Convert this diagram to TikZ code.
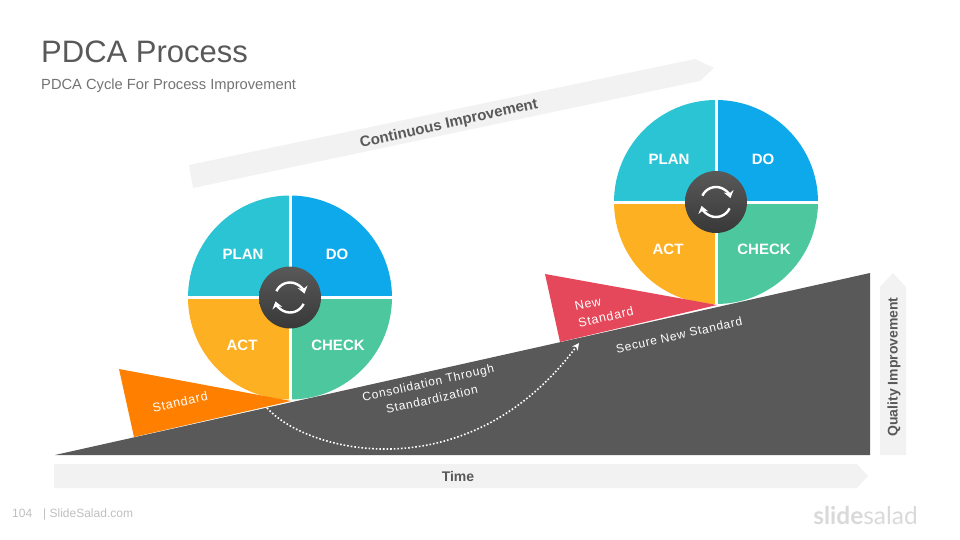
\documentclass[tikz,border=0pt]{standalone}
\usepackage{fontspec}
\setmainfont{Liberation Sans}
\newfontfamily\tracked[LetterSpace=6]{Liberation Sans}
\newfontfamily\logofont{Lato}
\usetikzlibrary{arrows.meta}
\definecolor{plancol}{HTML}{2AC4D4}
\definecolor{docol}{HTML}{0EA9EA}
\definecolor{checkcol}{HTML}{4DC89E}
\definecolor{actcol}{HTML}{FDB022}
\definecolor{rampcol}{HTML}{595959}
\definecolor{bandcol}{HTML}{F2F2F2}
\definecolor{stdcol}{HTML}{FF7F00}
\definecolor{newcol}{HTML}{E4485A}
\newcommand{\fsize}[1]{\fontsize{#1}{17}\selectfont}
\tikzset{
	wheellabel/.style={text=white, font=\bfseries\fsize{15}, inner sep=0pt},
	ramplabel/.style={text=white, font=\tracked\fsize{12.5}, rotate=12.6, inner sep=0pt, align=center},
	bandlabel/.style={text=rampcol, font=\bfseries\fsize{14}, inner sep=0pt},
	band/.style={fill=bandcol},
	iconarrow/.style={white, line width=2.4pt, -{Stealth[length=7pt,width=10pt]}}
}
\begin{document}
\begin{tikzpicture}[x=1pt,y=-1pt,line join=round]
	\useasboundingbox (0,0) rectangle (960,540);
	% heading
	\node[anchor=west, inner sep=0pt, text=rampcol, font=\fontsize{31}{36}\selectfont] (title) at (41,52) {PDCA Process};
	\node[anchor=west, inner sep=0pt, text=black!55, font=\fsize{14.7}] (subtitle) at (41,86) {PDCA Cycle For Process Improvement};
	% bands
	\fill[band] (189,165)--(695,59)--(714,68)--(700,81)--(193,188)--cycle;
	\fill[band] (54,464)--(857,464)--(868,476)--(857,488)--(54,488)--cycle;
	\fill[band] (880,287)--(893,273)--(906,287)--(906,455)--(880,455)--cycle;
	\node[bandlabel, rotate=12.6, font=\bfseries\fsize{15}] (continuous) at (449,124) {Continuous Improvement};
	\node[bandlabel] (time) at (458,476) {Time};
	\node[bandlabel, rotate=90] (quality) at (894,367) {Quality Improvement};
	% wheels
	\foreach \cx/\cy/\w in {290/297.5/a,716/202/b}{
		\foreach \a/\c in {180/plancol,270/docol,0/checkcol,90/actcol}
			\fill[\c] (\cx,\cy) -- +(\a:102) arc[start angle=\a, delta angle=90, radius=102] -- cycle;
		\draw[white, line width=3pt] (\cx-103,\cy)--(\cx+103,\cy) (\cx,\cy-103)--(\cx,\cy+103);
		\shade[top color=rampcol, bottom color=black!78] (\cx,\cy) circle (31);
		\draw[iconarrow] (\cx,\cy) +(-155:15) arc[start angle=-155, end angle=-15, radius=15];
		\draw[iconarrow] (\cx,\cy) +(25:15) arc[start angle=25, end angle=165, radius=15];
		\node[wheellabel] (plan\w) at (\cx-47,\cy-43) {PLAN};
		\node[wheellabel] (do\w) at (\cx+47,\cy-43) {DO};
		\node[wheellabel] (act\w) at (\cx-48,\cy+47.5) {ACT};
		\node[wheellabel] (check\w) at (\cx+48,\cy+47.5) {CHECK};
	}
	% wedges and slope
	\fill[stdcol] (119,369)--(291,401)--(134,437)--cycle;
	\fill[newcol] (545,274)--(717,305)--(560,342)--cycle;
	\fill[rampcol] (55,455)--(870,273)--(870,455)--cycle;
	\node[ramplabel] (standard) at (180,402) {Standard};
	\node[ramplabel, align=left] (newstd) at (604,309) {New\\Standard};
	\node[ramplabel, font=\tracked\fsize{12}] (consol) at (430,391) {Consolidation Through\\Standardization};
	\node[ramplabel, font=\tracked\fsize{12}] (secure) at (679,335) {Secure New Standard};
	% dotted curve
	\coordinate (from) at (267,408);
	\coordinate (to) at (579,343);
	\draw[white, line width=1.6pt, dotted, -{Stealth[length=7pt,width=7pt]}] (from) .. controls (310,455) and (470,490) .. (to);
	% footer
	\node[anchor=west, inner sep=0pt, text=black!25, font=\fsize{12}] (page) at (12,513) {104};
	\node[anchor=west, inner sep=0pt, text=black!25, font=\fsize{12}] (site) at (43,514) {| SlideSalad.com};
	\node[anchor=east, inner sep=0pt, text=black!15, font=\logofont\fsize{24.5}] (logo) at (918,515) {\textbf{slide}salad};
\end{tikzpicture}
\end{document}
